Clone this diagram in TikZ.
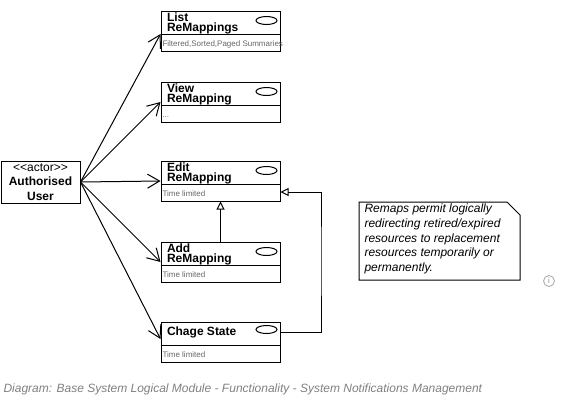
\documentclass[tikz,border=0pt]{standalone}
\usepackage{fontspec}
\setmainfont{Liberation Sans}
\usetikzlibrary{arrows.meta, positioning}

\begin{document}
\begin{tikzpicture}[x=1pt, y=-1pt, line width=1pt,
        ucbox/.style={draw, rectangle, minimum width=119pt, minimum height=40pt, inner sep=0pt},
        uctitle/.style={anchor=north west, inner sep=0pt, align=left, font=\fontsize{12}{10.5}\selectfont\bfseries},
        ucnote/.style={anchor=base west, inner sep=0pt, text=black!60, font=\fontsize{8}{9}\selectfont},
        assoc/.style={-{Straight Barb[length=12pt,width=14pt]}},
        gen/.style={-{Triangle[open,length=8pt,width=8pt]}}]
        \useasboundingbox (0,0) rectangle (561,407);

        \node (actor) [draw, minimum width=79pt, minimum height=42pt, inner sep=0pt, align=center, font=\fontsize{12}{14.5}\selectfont] at (40.5,182) {<\kern0pt<actor>\kern0pt>\\\textbf{Authorised}\\\textbf{User}};

        \node (list) [ucbox] at (220.5,31) {};
        \node (list-t) [uctitle] at ([xshift=6pt,yshift=-1.5pt]list.north west) {List\\ReMappings};
        \node (list-n) [ucnote] at ([xshift=1.5pt,yshift=-36pt]list.north west) {Filtered,Sorted,Paged Summaries};
        \draw ([yshift=-23.5pt]list.north west) -- ([yshift=-23.5pt]list.north east);
        \draw ([xshift=-14pt,yshift=-10pt]list.north east) ellipse (10.5 and 4);

        \node (view) [ucbox] at (220.5,102) {};
        \node (view-t) [uctitle] at ([xshift=6pt,yshift=-1.5pt]view.north west) {View\\ReMapping};
        \node (view-n) [ucnote] at ([xshift=1.5pt,yshift=-36pt]view.north west) {...};
        \draw ([yshift=-23.5pt]view.north west) -- ([yshift=-23.5pt]view.north east);
        \draw ([xshift=-14pt,yshift=-10pt]view.north east) ellipse (10.5 and 4);

        \node (edit) [ucbox] at (220.5,181) {};
        \node (edit-t) [uctitle] at ([xshift=6pt,yshift=-1.5pt]edit.north west) {Edit\\ReMapping};
        \node (edit-n) [ucnote] at ([xshift=1.5pt,yshift=-36pt]edit.north west) {Time limited};
        \draw ([yshift=-23.5pt]edit.north west) -- ([yshift=-23.5pt]edit.north east);
        \draw ([xshift=-14pt,yshift=-10pt]edit.north east) ellipse (10.5 and 4);

        \node (add) [ucbox] at (220.5,262) {};
        \node (add-t) [uctitle] at ([xshift=6pt,yshift=-1.5pt]add.north west) {Add\\ReMapping};
        \node (add-n) [ucnote] at ([xshift=1.5pt,yshift=-36pt]add.north west) {Time limited};
        \draw ([yshift=-23.5pt]add.north west) -- ([yshift=-23.5pt]add.north east);
        \draw ([xshift=-14pt,yshift=-10pt]add.north east) ellipse (10.5 and 4);

        \node (chage) [ucbox] at (220.5,342) {};
        \node (chage-t) [uctitle] at ([xshift=6pt,yshift=-4.5pt]chage.north west) {Chage State};
        \node (chage-n) [ucnote] at ([xshift=1.5pt,yshift=-36pt]chage.north west) {Time limited};
        \draw ([yshift=-23.5pt]chage.north west) -- ([yshift=-23.5pt]chage.north east);
        \draw ([xshift=-14pt,yshift=-8pt]chage.north east) ellipse (10.5 and 4);

        \draw[assoc] (actor.east) -- ([yshift=-3pt]list.west);
        \draw[assoc] (actor.east) -- (view.west);
        \draw[assoc] (actor.east) -- (edit.west);
        \draw[assoc] (actor.east) -- (add.west);
        \draw[assoc] (actor.east) -- ([yshift=3pt]chage.west);

        \draw[gen] (add.north) -- (edit.south);
        \coordinate (bend) at (321,260);
        \draw[gen] ([yshift=10pt]chage.east) -| (bend) |- ([yshift=-11pt]edit.east);

        \draw (359,202) -- (507,202) -- (520,215) -- (520,280) -- (359,280) -- cycle;
        \node (remark) [anchor=north west, inner sep=0pt, align=left, font=\fontsize{12}{14.7}\selectfont\itshape] at (364,203.5) {Remaps permit logically\\redirecting retired/expired\\resources to replacement\\resources temporarily or\\permanently.};

        \draw[black!35, line width=0.8pt] (549,281) circle (5.5);
        \node (info) [text=black!45, inner sep=0pt, font=\fontsize{8}{8}\selectfont] at (549,281) {i};

        \node (caption) [anchor=base west, inner sep=0pt, text=black!50, font=\fontsize{12}{14}\selectfont\itshape] at (3,392) {Diagram: Base System Logical Module - Functionality - System Notifications Management};
    \end{tikzpicture}
\end{document}
